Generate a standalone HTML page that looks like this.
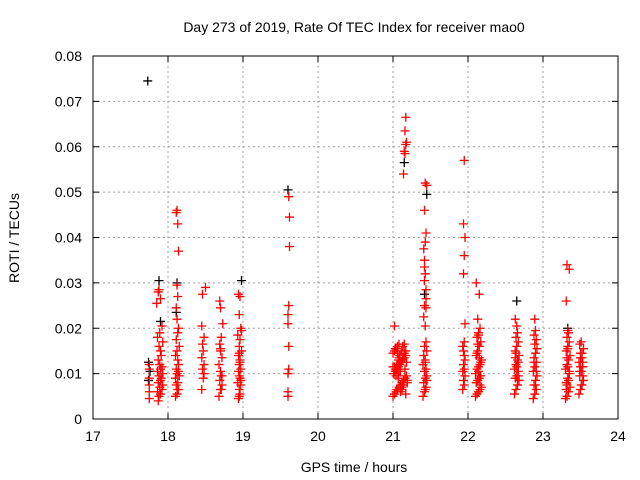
<!DOCTYPE html>
<html><head><meta charset="utf-8"><style>
body{margin:0;background:#fff;}
svg{display:block;font-family:"Liberation Sans",sans-serif;}
</style></head><body>
<svg id="chart" width="640" height="480" viewBox="0 0 640 480">
<rect width="640" height="480" fill="#fff"/>
<text x="354" y="32" font-size="14" text-anchor="middle">Day 273 of 2019, Rate Of TEC Index for receiver mao0</text>
<text x="354" y="472" font-size="14" text-anchor="middle">GPS time / hours</text>
<text x="19" y="238" font-size="14" text-anchor="middle" transform="rotate(-90 19 238)">ROTI / TECUs</text>
<g id="grid"></g><g id="ticks"></g><g id="marks"></g>
<rect x="93" y="56" width="525" height="363" fill="none" stroke="#000"/>
</svg>
<script>
const xTicks=[17,18,19,20,21,22,23,24];
const yTicks=[0,0.01,0.02,0.03,0.04,0.05,0.06,0.07,0.08];
const yTickLabels=["0","0.01","0.02","0.03","0.04","0.05","0.06","0.07","0.08"];
const redT=[17.75,17.75,17.75,17.75,17.75,17.75,
17.87,17.88,17.9,17.86,17.92,17.89,17.93,17.87,17.9,17.91,17.88,17.93,17.86,17.9,17.92,17.89,17.87,17.91,17.9,17.88,17.93,17.86,17.89,17.92,17.85,17.87,17.88,17.9,
18.1,18.12,18.14,18.11,18.13,18.1,18.15,18.12,18.11,18.14,18.13,18.1,18.12,18.15,18.11,18.13,18.14,18.12,18.11,18.13,18.12,18.14,18.13,18.11,18.12,18.13,18.14,
18.45,18.47,18.46,18.48,18.45,18.47,18.46,18.48,18.45,18.46,18.5,18.48,
18.68,18.7,18.72,18.69,18.71,18.7,18.68,18.72,18.7,18.69,18.71,18.73,18.7,18.69,18.71,18.7,18.72,
18.94,18.96,18.95,18.97,18.93,18.96,18.95,18.94,18.97,18.95,18.96,18.94,18.98,18.95,18.96,18.93,18.97,18.95,18.96,18.94,18.95,18.97,18.96,18.95,18.98,
19.6,19.6,19.6,19.61,19.61,19.6,19.6,19.61,19.62,19.62,19.61,
21.0,21.02,21.04,21.06,21.08,21.1,21.12,21.14,21.16,21.18,21.01,21.03,21.05,21.07,21.09,21.11,21.13,21.15,21.17,21.0,21.02,21.04,21.06,21.08,21.1,21.12,21.14,21.16,21.01,21.03,21.05,21.07,21.09,21.11,21.13,21.15,21.17,21.19,21.02,21.06,21.1,21.14,21.18,21.04,21.08,21.12,21.16,21.03,21.07,21.11,21.15,21.19,21.05,21.09,21.13,21.17,21.0,21.07,21.13,
21.02,21.14,21.16,21.15,21.17,21.18,21.16,21.17,
21.4,21.42,21.44,21.41,21.43,21.45,21.42,21.44,21.4,21.43,21.41,21.45,21.42,21.44,21.43,21.41,21.42,21.44,21.43,21.42,21.41,21.43,21.44,21.42,21.45,21.43,21.42,21.44,21.43,21.45,21.44,21.42,21.43,
21.93,21.95,21.94,21.96,21.93,21.95,21.94,21.96,21.95,21.94,21.93,21.95,21.96,21.94,21.95,21.96,21.94,21.95,
22.1,22.12,22.14,22.16,22.18,22.11,22.13,22.15,22.17,22.1,22.12,22.14,22.16,22.18,22.11,22.13,22.15,22.17,22.12,22.14,22.16,22.13,22.15,22.11,22.17,22.14,22.12,22.16,22.13,22.15,22.14,22.16,
22.62,22.64,22.66,22.68,22.63,22.65,22.67,22.62,22.64,22.66,22.68,22.63,22.65,22.67,22.64,22.66,22.65,22.63,22.67,22.64,22.66,22.65,22.63,22.67,
22.87,22.89,22.91,22.88,22.9,22.92,22.87,22.89,22.91,22.88,22.9,22.92,22.89,22.91,22.88,22.9,22.89,22.91,22.9,22.88,
23.3,23.32,23.34,23.36,23.31,23.33,23.35,23.3,23.32,23.34,23.36,23.31,23.33,23.35,23.32,23.34,23.33,23.31,23.35,23.32,23.34,23.33,23.32,23.31,23.33,23.35,23.32,
23.48,23.5,23.52,23.54,23.49,23.51,23.53,23.48,23.5,23.52,23.54,23.49,23.51,23.53,23.5,23.52,23.51,23.49,23.53,23.5];
const redV=[0.0045,0.006,0.0075,0.009,0.011,0.012,
0.004,0.005,0.0055,0.006,0.0065,0.007,0.0075,0.008,0.0085,0.009,0.0095,0.01,0.0105,0.011,0.0115,0.012,0.013,0.014,0.015,0.016,0.017,0.018,0.019,0.0205,0.0255,0.028,0.0285,0.0265,
0.005,0.0055,0.0065,0.0075,0.008,0.009,0.0095,0.01,0.011,0.012,0.013,0.014,0.015,0.016,0.0175,0.019,0.02,0.022,0.0245,0.027,0.0295,0.037,0.043,0.0455,0.046,0.0065,0.0105,
0.0065,0.009,0.011,0.012,0.0135,0.015,0.0165,0.018,0.0205,0.0275,0.029,0.01,
0.005,0.0065,0.0075,0.0085,0.0095,0.0105,0.012,0.0135,0.015,0.0165,0.018,0.021,0.0245,0.026,0.0065,0.0155,0.0095,
0.0045,0.0055,0.0065,0.0075,0.008,0.009,0.0095,0.0105,0.011,0.012,0.013,0.014,0.015,0.016,0.0175,0.0185,0.02,0.023,0.027,0.0275,0.005,0.0085,0.0125,0.0145,0.0195,
0.005,0.006,0.01,0.011,0.016,0.021,0.023,0.025,0.038,0.0445,0.049,
0.005,0.0055,0.006,0.0065,0.007,0.0075,0.008,0.0085,0.009,0.0095,0.01,0.0105,0.011,0.0115,0.012,0.0125,0.013,0.0135,0.014,0.0145,0.015,0.0155,0.016,0.0165,0.006,0.007,0.008,0.009,0.01,0.011,0.012,0.013,0.014,0.015,0.016,0.0165,0.0055,0.0085,0.0115,0.0145,0.0105,0.0075,0.0125,0.0095,0.0135,0.0065,0.011,0.0155,0.009,0.0125,0.0145,0.008,0.0065,0.0105,0.0135,0.015,0.0115,0.0095,0.0075,
0.0205,0.054,0.0585,0.059,0.0605,0.061,0.0635,0.0665,
0.005,0.006,0.007,0.008,0.009,0.0095,0.0105,0.011,0.012,0.013,0.014,0.015,0.016,0.017,0.0205,0.0225,0.025,0.0285,0.032,0.035,0.0375,0.039,0.041,0.046,0.0515,0.052,0.0335,0.0265,0.0125,0.0085,0.0245,0.0305,0.0065,
0.0065,0.0075,0.0085,0.0095,0.0105,0.011,0.012,0.013,0.014,0.015,0.016,0.017,0.021,0.032,0.036,0.04,0.043,0.057,
0.005,0.0055,0.006,0.0065,0.007,0.008,0.0085,0.009,0.0095,0.01,0.011,0.0115,0.012,0.013,0.014,0.015,0.016,0.017,0.018,0.019,0.02,0.022,0.0275,0.03,0.0125,0.0105,0.0145,0.0075,0.0165,0.0135,0.0185,0.0095,
0.0055,0.0065,0.0075,0.0085,0.009,0.0095,0.0105,0.011,0.012,0.013,0.014,0.015,0.016,0.017,0.018,0.019,0.0205,0.022,0.0125,0.0145,0.0075,0.0115,0.0135,0.0095,
0.0045,0.0055,0.0065,0.0075,0.0085,0.0095,0.0105,0.0115,0.0125,0.0135,0.0145,0.0155,0.0165,0.0175,0.0185,0.0195,0.022,0.0105,0.0075,0.0125,
0.0045,0.005,0.006,0.007,0.008,0.009,0.01,0.011,0.012,0.013,0.014,0.015,0.016,0.017,0.018,0.019,0.0195,0.026,0.033,0.034,0.0085,0.0115,0.0135,0.0065,0.0155,0.0105,0.0075,
0.0055,0.0065,0.0075,0.0085,0.0095,0.0105,0.0115,0.0125,0.0135,0.0145,0.0155,0.0165,0.017,0.0095,0.0115,0.0135,0.0075,0.0105,0.0125,0.0145];
const blackT=[17.73,17.74,17.76,17.74,17.88,18.12,18.98,19.6,21.45,21.42,22.65,23.33,17.9,18.11,21.15];
const blackV=[0.0745,0.0125,0.0105,0.0085,0.0305,0.03,0.0305,0.0505,0.0495,0.0275,0.026,0.02,0.0215,0.0235,0.0565];
const X=h=>93+(h-17)*75;
const Y=v=>419-v*4537.5;
const ns="http://www.w3.org/2000/svg";
const grid=document.getElementById('grid'),ticks=document.getElementById('ticks'),marks=document.getElementById('marks');
function mk(tag,attrs,parent){const e=document.createElementNS(ns,tag);for(const k in attrs)e.setAttribute(k,attrs[k]);parent.appendChild(e);return e;}
xTicks.forEach((t,i)=>{const x=X(t);
 if(i>0&&i<xTicks.length-1){const g=mk('line',{x1:x,x2:x,y1:56,y2:419,stroke:'#a0a0a0','stroke-dasharray':'2,3'},grid);
 
 }
 mk('line',{x1:x,x2:x,y1:419,y2:413,stroke:'#000'},ticks);mk('line',{x1:x,x2:x,y1:56,y2:62,stroke:'#000'},ticks);
 const tx=mk('text',{x:x,y:441,'font-size':14,'text-anchor':'middle'},ticks);tx.textContent=t;
 
 });
yTicks.forEach((v,i)=>{const y=Y(v);
 if(i>0&&i<yTicks.length-1){const g=mk('line',{x1:93,x2:618,y1:y,y2:y,stroke:'#a0a0a0','stroke-dasharray':'2,3'},grid);
 
 }
 mk('line',{x1:93,x2:99,y1:y,y2:y,stroke:'#000'},ticks);mk('line',{x1:618,x2:612,y1:y,y2:y,stroke:'#000'},ticks);
 const tx=mk('text',{x:82,y:y+5,'font-size':14,'text-anchor':'end'},ticks);tx.textContent=yTickLabels[i];
 
 });
function plus(t,v,c,name){const x=X(t),y=Y(v);
 const p=mk('path',{d:`M${x-4.5} ${y}H${x+4.5}M${x} ${y-4.5}V${y+4.5}`,stroke:c,'stroke-width':1.3,fill:'none'},marks);
 
 }
blackT.forEach((t,i)=>plus(t,blackV[i],'#000','black-point'));
redT.forEach((t,i)=>plus(t,redV[i],'#ff0000','red-point'));
</script>
</body></html>
